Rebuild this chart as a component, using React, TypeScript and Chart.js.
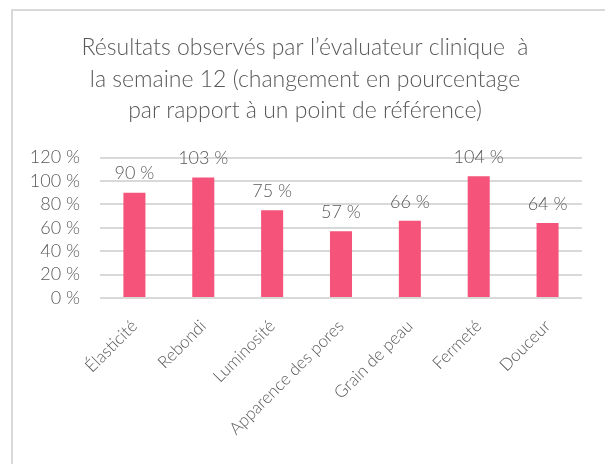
import React, { useEffect, useRef } from "react";
import { Chart, registerables } from "chart.js";

Chart.register(...registerables);

const categories = ["Élasticité", "Rebondi", "Luminosité", "Apparence des pores", "Grain de peau", "Fermeté", "Douceur"];
const values = [90, 103, 75, 57, 66, 104, 64];
const titleLines = [
  "Résultats observés par l’évaluateur clinique  à",
  "la semaine 12 (changement en pourcentage",
  "par rapport à un point de référence)",
];
const yMin = 0;
const yMax = 120;
const yStep = 20;

const FONT = "Lato, 'Open Sans', sans-serif";
const TEXT = "#595959";

const dataLabels = {
  id: "dataLabels",
  afterDatasetsDraw(chart: any) {
    const ctx = chart.ctx;
    const meta = chart.getDatasetMeta(0);
    ctx.save();
    ctx.font = `300 18px ${FONT}`;
    ctx.fillStyle = TEXT;
    ctx.textAlign = "center";
    ctx.textBaseline = "bottom";
    meta.data.forEach((bar: any, i: number) => {
      ctx.fillText(`${values[i]} %`, bar.x, bar.y - 10);
    });
    ctx.restore();
  },
};

export default function App() {
  const ref = useRef<HTMLCanvasElement>(null);
  useEffect(() => {
    const chart = new Chart(ref.current!, {
      type: "bar",
      data: {
        labels: categories,
        datasets: [
          {
            data: values,
            backgroundColor: "#F5537A",
            categoryPercentage: 1,
            barPercentage: 0.32,
          },
        ],
      },
      options: {
        animation: false,
        responsive: false,
        maintainAspectRatio: false,
        layout: { padding: { left: 28, right: 23, top: 0, bottom: 0 } },
        plugins: {
          legend: { display: false },
          tooltip: { enabled: false },
          title: {
            display: true,
            text: titleLines,
            color: TEXT,
            font: { family: FONT, size: 23, weight: "300" as any, lineHeight: 1.37 },
            padding: { top: 32, bottom: 31 },
          },
        },
        scales: {
          x: {
            grid: { display: false, drawTicks: false },
            border: { display: false },
            ticks: {
              color: TEXT,
              font: { family: FONT, size: 17, weight: "300" as any },
              maxRotation: 45,
              minRotation: 45,
              padding: 18,
              autoSkip: false,
            },
            afterFit(scale: any) {
              scale.height = 166;
            },
          },
          y: {
            min: yMin,
            max: yMax,
            grid: { color: "#D9D9D9", lineWidth: 2, drawTicks: false },
            border: { display: false },
            ticks: {
              stepSize: yStep,
              autoSkip: false,
              color: TEXT,
              font: { family: FONT, size: 18, weight: "300" as any },
              padding: 20,
              callback: (v: any) => `${v} %`,
            },
            afterFit(scale: any) {
              scale.width = 72;
            },
          },
        },
      },
      plugins: [dataLabels],
    });
    return () => chart.destroy();
  }, []);

  return (
    <div style={{ position: "fixed", left: 0, top: 0, width: 605, height: 464, background: "#fff", overflow: "hidden" }}>
      <div
        style={{
          position: "absolute",
          left: 11,
          top: 9,
          width: 640,
          height: 500,
          border: "2px solid #D9D9D9",
          boxSizing: "border-box",
        }}
      />
      <canvas ref={ref} width={605} height={464} style={{ position: "absolute", left: 0, top: 0 }} />
    </div>
  );
}
